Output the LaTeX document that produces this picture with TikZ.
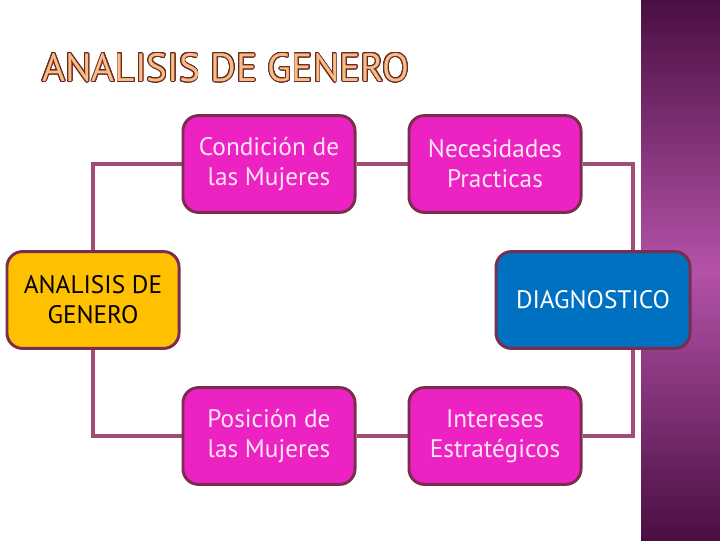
\documentclass[tikz,border=0pt]{standalone}
\usepackage{fontspec}
\setmainfont{PT Sans}
\usepackage{tikz}
\usepackage{contour}
\usetikzlibrary{positioning,backgrounds}
\definecolor{boxedge}{HTML}{7B2D4F}
\definecolor{linkline}{HTML}{A04C74}
\definecolor{magbox}{HTML}{EC22C2}
\definecolor{goldbox}{HTML}{FFC000}
\definecolor{bluebox}{HTML}{0070C0}
\definecolor{paletext}{HTML}{FFE6F6}
\definecolor{bandtop}{HTML}{4A0F42}
\definecolor{bandmid}{HTML}{B452A8}
\definecolor{titlefill}{HTML}{F7BD86}
\definecolor{titleedge}{HTML}{6A2A22}
\contourlength{0.6pt}
\contournumber{24}

\begin{document}
\begin{tikzpicture}[x=0.025cm,y=-0.025cm,
  card/.style={draw=boxedge,line width=2.1pt,rounded corners=11pt,
    minimum width=4.3cm,minimum height=2.42cm,align=center,
    font=\fontsize{18}{21.5}\selectfont},
  pinkcard/.style={card,fill=magbox,text=paletext},
  link/.style={linkline,line width=2.3pt}]
  \useasboundingbox (0,0) rectangle (720,540);
  % side band
  \fill[top color=bandtop,bottom color=bandtop,middle color=bandmid] (641,0) rectangle (720,540);
  % title
  \node[anchor=west,inner sep=0pt,font=\fontsize{28}{28}\selectfont\addfontfeatures{LetterSpace=0}] (title) at (42,68)
    {\contour{titleedge}{\color{titlefill}ANALISIS DE GENERO}};
  % boxes
  \node[pinkcard] (cond) at (269,164) {Condición de\\las Mujeres};
  \node[pinkcard] (nec) at (495,164) {Necesidades\\Practicas};
  \node[card,fill=goldbox,text=black] (gen) at (93,300) {ANALISIS DE\\GENERO};
  \node[card,fill=bluebox,text=white,minimum width=4.85cm] (diag) at (593,300) {DIAGNOSTICO};
  \node[pinkcard] (pos) at (269,436) {Posición de\\las Mujeres};
  \node[pinkcard] (int) at (495,436) {Intereses\\Estratégicos};
  \coordinate (rc) at (633,300);
  % connectors
  \begin{pgfonlayer}{background}
    \draw[link] (cond) -- (nec) -| (rc) |- (int) -- (pos) -| (gen) |- (cond);
  \end{pgfonlayer}
\end{tikzpicture}
\end{document}
